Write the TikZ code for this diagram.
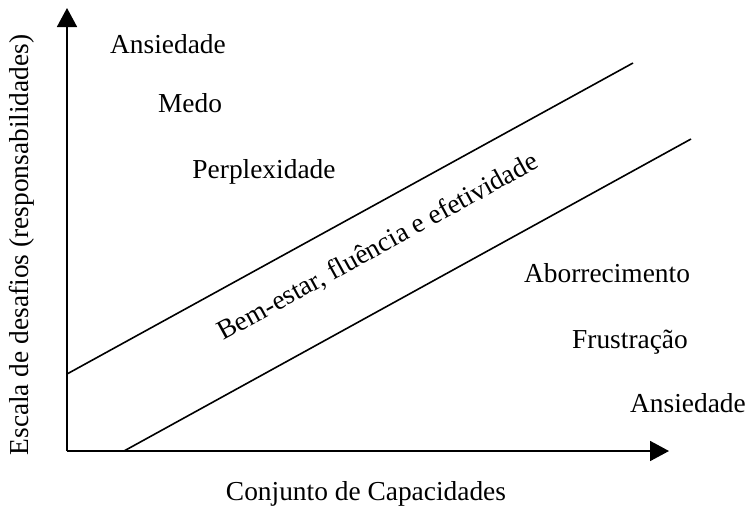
\documentclass[tikz,border=0pt]{standalone}
\usepackage{fontspec}
\setmainfont{Liberation Serif}
\usetikzlibrary{arrows.meta}
\tikzset{
  axis/.style={line width=1.8pt, -{Triangle[length=19pt,width=20pt]}},
  band/.style={line width=1.6pt},
  lbl/.style={inner sep=0pt, anchor=base, font=\fontsize{27.4}{32}\selectfont},
}
\begin{document}
\begin{tikzpicture}[x=1pt,y=-1pt]
\useasboundingbox (0,0) rectangle (746,507);
\coordinate (O) at (67,451);
\coordinate (Ytip) at (67,8);
\coordinate (Xtip) at (669,451);
\coordinate (U1) at (67,374);
\coordinate (U2) at (633,63);
\coordinate (L1) at (124,451);
\coordinate (L2) at (691,139);
\draw[axis] (O) -- (Ytip);
\draw[axis] (O) -- (Xtip);
\draw[band] (U1) -- (U2);
\draw[band] (L1) -- (L2);
\node[lbl] (a1) at (168,53) {Ansiedade};
\node[lbl] (a2) at (190,112) {Medo};
\node[lbl] (a3) at (264,178) {Perplexidade};
\node[lbl] (b1) at (607,282) {Aborrecimento};
\node[lbl] (b2) at (630,348) {Frustração};
\node[lbl] (b3) at (688,412) {Ansiedade};
\node[lbl] (xl) at (366,500) {Conjunto de Capacidades};
\node[lbl, rotate=90] (yl) at (28,245) {Escala de desafios (responsabilidades)};
\node[lbl, rotate=28.8] (mid) at (382,254) {Bem-estar, fluência e efetividade};
\end{tikzpicture}
\end{document}
